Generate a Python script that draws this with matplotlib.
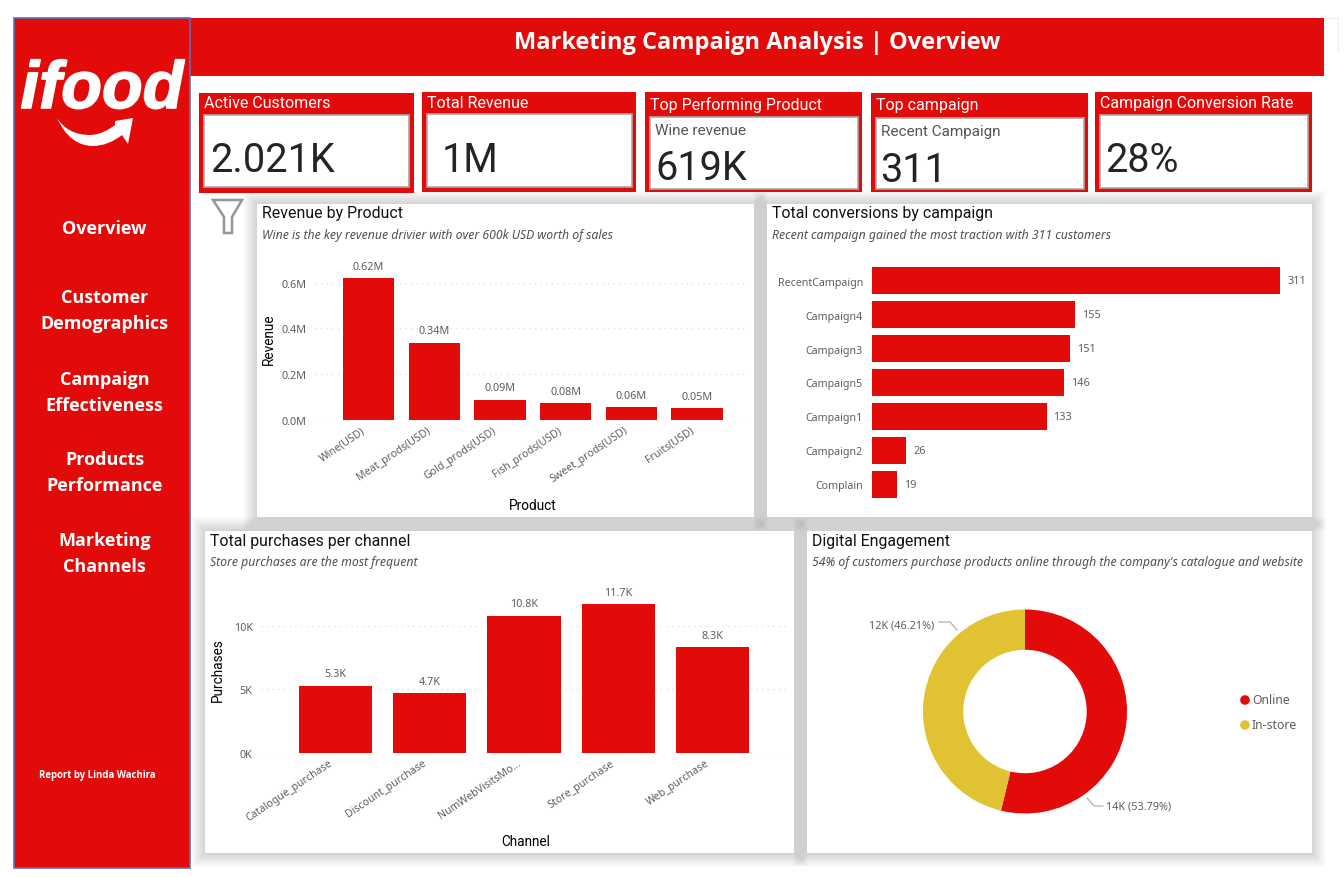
import matplotlib
matplotlib.use("Agg")
import matplotlib.pyplot as plt
import matplotlib.patheffects as pe
from matplotlib.patches import Rectangle, PathPatch, Polygon, Circle
from matplotlib.path import Path
from matplotlib.transforms import ScaledTranslation

W, H = 1344, 878
OFF = 1
RED = "#E30B0A"
YEL = "#E1C233"
DIN = "Roboto"
SEG = "Noto Sans"

products = ["Wine(USD)", "Meat_prods(USD)", "Gold_prods(USD)", "Fish_prods(USD)", "Sweet_prods(USD)", "Fruits(USD)"]
revenue = [0.619, 0.338, 0.09, 0.076, 0.056, 0.052]
campaigns = ["RecentCampaign", "Campaign4", "Campaign3", "Campaign5", "Campaign1", "Campaign2", "Complain"]
conversions = [311, 155, 151, 146, 133, 26, 19]
channels = ["Catalogue_purchase", "Discount_purchase", "NumWebVisitsMo...", "Store_purchase", "Web_purchase"]
purchases = [5.3, 4.7, 10.8, 11.7, 8.3]
engagement_labels = ["Online", "In-store"]
engagement_share = [53.79, 46.21]
engagement_text = ["14K (53.79%)", "12K (46.21%)"]
nav_items = [("Overview", 228), ("Customer\nDemographics", 310), ("Campaign\nEffectiveness", 392),
             ("Products\nPerformance", 472), ("Marketing\nChannels", 553)]
kpi_titles = ["Active Customers", "Total Revenue", "Top Performing Product", "Top campaign", "Campaign Conversion Rate"]
kpi_sub = ["", "", "Wine revenue", "Recent Campaign", ""]
kpi_values = ["2.021K", "1M", "619K", "311", "28%"]

fig = plt.figure(figsize=(W / 100, H / 100), dpi=100, facecolor="white")
bg = fig.add_axes([0, 0, 1, 1], zorder=0)
bg.set_xlim(0, W); bg.set_ylim(H - OFF, -OFF); bg.axis("off")


def rect(x0, y0, x1, y1, **kw):
    kw.setdefault("lw", 0)
    r = Rectangle((x0, y0), x1 - x0, y1 - y0, **kw)
    bg.add_patch(r)
    return r


def axes_px(x0, y0, x1, y1):
    a = fig.add_axes([x0 / W, 1 - (y1 + OFF) / H, (x1 - x0) / W, (y1 - y0) / H], zorder=2)
    a.patch.set_alpha(0)
    for s in a.spines.values():
        s.set_visible(False)
    return a


panels = [(257, 204, 754, 517), (767, 204, 1312, 517), (205, 531, 794, 853), (807, 531, 1312, 853)]
for p in panels:
    for d in range(14, 0, -1):
        rect(p[0] - d, p[1] - d, p[2] + d, p[3] + d, fc="black", alpha=0.011, zorder=1)
for p in panels:
    rect(*p, fc="white", zorder=2)

# sidebar and header
bg.plot([1324, 1338, 1338], [18, 18, 50], color="#EFEFEF", lw=0.8, zorder=3)
rect(190, 18, 1324, 76, fc=RED, zorder=3)
rect(14, 18, 190, 868, fc=RED, ec="#5B6FB5", lw=1.2, zorder=4)
bg.text(757, 42, "Marketing Campaign Analysis | Overview", color="white", fontsize=17,
        fontweight="bold", family="Open Sans", ha="center", va="center", zorder=5)

# logo
bg.text(102, 108, "ifood", color="white", fontsize=48, fontweight="bold", style="italic",
        family="Liberation Sans", ha="center", va="baseline", zorder=5,
        path_effects=[pe.withStroke(linewidth=1.2, foreground="white")])
swoosh = Path([(57, 118), (70, 146), (93, 146), (108, 146), (122, 135), (128, 144), (133, 118),
               (115, 121), (115, 125), (102, 135), (90, 135), (68, 135), (57, 118), (57, 118)],
              [Path.MOVETO, Path.CURVE3, Path.CURVE3, Path.CURVE3, Path.CURVE3, Path.LINETO, Path.LINETO,
               Path.LINETO, Path.LINETO, Path.CURVE3, Path.CURVE3, Path.CURVE3, Path.CURVE3, Path.CLOSEPOLY])
bg.add_patch(PathPatch(swoosh, fc="white", lw=0, zorder=5))

for label, y in nav_items:
    bg.text(104.5, y, label, color="white", fontsize=13, fontweight="bold", family="Open Sans",
            ha="center", va="center", linespacing=1.6, zorder=5)
bg.text(97, 775, "Report by Linda Wachira", color="white", fontsize=6.9, fontweight="bold",
        family="Open Sans", ha="center", va="center", zorder=5)

# KPI cards
cards = [((199, 93, 414, 193), (204, 115, 409, 187), 210, 159),
         ((422, 92, 636, 192), (427, 114, 632, 187), 442, 159),
         ((645, 92, 862, 192), (650, 117, 858, 189), 655, 167),
         ((871, 93, 1088, 192), (876, 118, 1084, 189), 880, 169),
         ((1095, 92, 1312, 192), (1100, 115, 1308, 188), 1105, 159)]
for (o, i, vx, vy), t, s, v in zip(cards, kpi_titles, kpi_sub, kpi_values):
    rect(*o, fc=RED, zorder=3)
    rect(*i, fc="white", ec="#A8A8A8", lw=1.2, zorder=4)
    bg.text(o[0] + 5, (o[1] + i[1]) / 2 - 1, t, color="white", fontsize=11.5, family=DIN,
            ha="left", va="center", zorder=5)
    if s:
        bg.text(i[0] + 5, i[1] + 13, s, color="#555555", fontsize=11, family=DIN,
                ha="left", va="center", zorder=5)
    bg.text(vx, vy, v, color="#252423", fontsize=28.5, family=DIN,
            ha="left", va="center", zorder=5)

# funnel icon
bg.add_patch(Polygon([(213, 200), (242, 200), (232, 217), (232, 233), (224, 233), (224, 217)],
                     closed=True, fc="white", ec="#969696", lw=1.8, zorder=5))

# panel headings
heads = [(262, 213, "Revenue by Product", 235, "Wine is the key revenue drivier with over 600k USD worth of sales"),
         (772, 213, "Total conversions by campaign", 235, "Recent campaign gained the most traction with 311 customers"),
         (210, 541, "Total purchases per channel", 562, "Store purchases are the most frequent"),
         (812, 541, "Digital Engagement", 562, "54% of customers purchase products online through the company's catalogue and website")]
for x, y, t, y2, st in heads:
    bg.text(x, y, t, color="#111111", fontsize=11.4, family=DIN, ha="left", va="center", zorder=5)
    bg.text(x, y2, st, color="#505050", fontsize=8.8, family=SEG, style="italic", ha="left", va="center", zorder=5)


def style_cols(a, ticks, fmt, names):
    a.set_yticks(ticks)
    a.set_yticklabels([fmt(t) for t in ticks], fontsize=7.8, family=SEG, color="#605E5C")
    a.set_xticks(range(len(names)))
    a.set_xticklabels(names, fontsize=7.6, family=SEG, color="#605E5C", rotation=34,
                      ha="right", va="top", rotation_mode="anchor")
    a.tick_params(axis="y", length=0, pad=6)
    a.tick_params(axis="x", length=0, pad=3)
    shift = ScaledTranslation(-7.5 / 100, 0, fig.dpi_scale_trans)
    for lab in a.get_xticklabels():
        lab.set_transform(lab.get_transform() + shift)
    a.grid(axis="y", color="#DDDDDD", ls=(0, (1, 3.5)), lw=0.9)
    a.set_axisbelow(True)


def axis_title(x, y, s, rot=0):
    bg.text(x, y, s, color="#000000", fontsize=9.8, family=DIN,
            rotation=rot, ha="center", va="center", zorder=5)


# Revenue by Product
ax1 = axes_px(315, 249.3, 749, 420.3)
ax1.bar(range(len(products)), revenue, width=0.78, color=RED)
ax1.set_xlim((315 - 368.5) / 65.7, (749 - 368.5) / 65.7); ax1.set_ylim(0, 171 / 229.6)
style_cols(ax1, [0, 0.2, 0.4, 0.6], lambda t: f"{t:.1f}M", products)
for i, v in enumerate(revenue):
    ax1.annotate(f"{v:.2f}M", (i, v), xytext=(0, 4.5), textcoords="offset points", ha="center", va="bottom",
                 fontsize=7.8, family=SEG, color="#605E5C")
axis_title(533, 505, "Product")
axis_title(269, 338, "Revenue", 90)

# Conversions
ax2 = axes_px(872, 264, 1300, 501)
ax2.barh(range(len(campaigns)), conversions, height=0.8, color=RED)
ax2.set_ylim(len(campaigns) - 0.5, -0.5); ax2.set_xlim(0, 326)
ax2.set_xticks([])
ax2.set_yticks(range(len(campaigns)))
ax2.set_yticklabels(campaigns, fontsize=7.7, family=SEG, color="#605E5C")
ax2.tick_params(axis="y", length=0, pad=6.5)
for i, v in enumerate(conversions):
    ax2.annotate(str(v), (v, i), xytext=(5, 0), textcoords="offset points", ha="left", va="center",
                 fontsize=7.8, family=SEG, color="#605E5C")

# Purchases
ax3 = axes_px(261, 590, 788, 753)
ax3.bar(range(len(channels)), purchases, width=0.775, color=RED)
ax3.set_xlim((261 - 335.5) / 94.25, (788 - 335.5) / 94.25); ax3.set_ylim(0, 163 / 12.73)
style_cols(ax3, [0, 5, 10], lambda t: f"{t:.0f}K", channels)
for i, v in enumerate(purchases):
    ax3.annotate(f"{v:.1f}K", (i, v), xytext=(0, 4.5), textcoords="offset points", ha="center", va="bottom",
                 fontsize=7.8, family=SEG, color="#605E5C")
axis_title(526, 841, "Channel")
axis_title(218, 669, "Purchases", 90)

# Donut
ax4 = axes_px(923, 609, 1127, 814)
ax4.pie(engagement_share, colors=[RED, YEL], startangle=90, counterclock=False, radius=1,
        wedgeprops=dict(width=0.395, lw=0))
ax4.set_xlim(-1, 1); ax4.set_ylim(-1, 1)
bg.plot([1087, 1094, 1103], [798, 806, 806], color="#A8A8A8", lw=0.8, zorder=5)
bg.plot([957, 950, 939], [630, 622, 622], color="#A8A8A8", lw=0.8, zorder=5)
bg.text(1106, 806, engagement_text[0], fontsize=7.8, family=SEG, color="#605E5C", ha="left", va="center", zorder=5)
bg.text(934, 625, engagement_text[1], fontsize=7.8, family=SEG, color="#605E5C", ha="right", va="center", zorder=5)
for y, c, name in zip([700, 725], [RED, YEL], engagement_labels):
    bg.add_patch(Circle((1245, y), 4.8, fc=c, lw=0, zorder=5))
    bg.text(1252, y, name, fontsize=8.8, family=SEG, color="#605E5C", ha="left", va="center", zorder=5)

fig.savefig("out.png", dpi=100, facecolor="white")
